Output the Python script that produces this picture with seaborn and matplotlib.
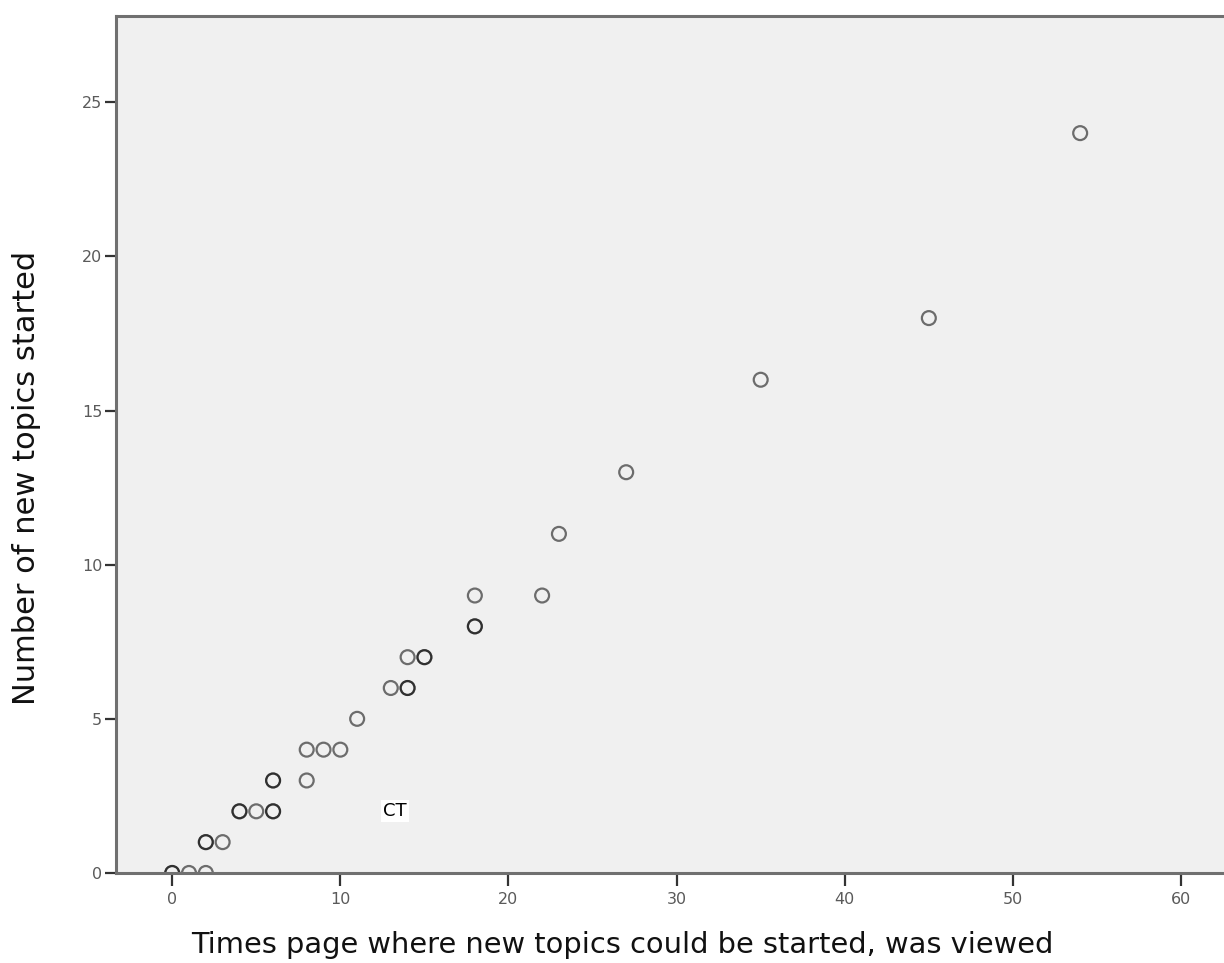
import matplotlib
matplotlib.use("Agg")
import matplotlib.pyplot as plt
import pandas as pd
import seaborn as sns

# Page views vs. new topics started (repeated pairs listed twice)
views = [0, 0, 1, 2, 2, 2, 3, 4, 4, 5, 6, 6, 6, 6, 8, 8, 9, 10,
         11, 13, 14, 14, 14, 15, 15, 18, 18, 18, 22, 23, 27, 35, 45, 54]
topics = [0, 0, 0, 0, 1, 1, 1, 2, 2, 2, 2, 2, 3, 3, 3, 4, 4, 4,
          5, 6, 6, 6, 7, 7, 7, 8, 8, 9, 9, 11, 13, 16, 18, 24]
x_ticks = [0, 10, 20, 30, 40, 50, 60]
y_ticks = [0, 5, 10, 15, 20, 25]
label_text = "CT"
label_pos = (13.25, 2.0)

dados = pd.DataFrame({"views": views, "topics": topics})

sns.set_style("white")
plt.rcParams["font.family"] = ["DejaVu Sans"]

fig = plt.figure(figsize=(12.24, 9.63), dpi=100)
ax = fig.add_axes([0.0948, 0.0935, 0.9072, 0.8899])
ax.set_facecolor("#f0f0f0")

sns.scatterplot(data=dados, x="views", y="topics", ax=ax, marker="o", s=100,
                facecolor="none", edgecolor="black", linewidth=1.6, alpha=0.55)

ax.text(label_pos[0], label_pos[1], label_text, fontsize=13, color="black",
        ha="center", va="center",
        bbox=dict(facecolor="white", edgecolor="none", pad=1.5))

ax.set_xlim(-3.34, 62.7)
ax.set_ylim(0, 27.8)
ax.set_xticks(x_ticks)
ax.set_yticks(y_ticks)
ax.tick_params(axis="both", bottom=True, left=True, direction="out",
               width=1.6, color="#333333", labelsize=11.5,
               labelcolor="#5a5a5a")
ax.tick_params(axis="x", length=9, pad=5)
ax.tick_params(axis="y", length=8, pad=2)
for side in ["left", "top", "bottom"]:
    ax.spines[side].set_color("#707070")
    ax.spines[side].set_linewidth(2.2)
ax.spines["right"].set_visible(False)

ax.set_xlabel("Times page where new topics could be started, was viewed",
              fontsize=20.8, color="#111111")
ax.set_ylabel("Number of new topics started", fontsize=22, color="#111111")
ax.xaxis.set_label_coords(0.456, -0.068)
ax.yaxis.set_label_coords(-0.068, 0.461)

fig.savefig("out.png", dpi=100)
